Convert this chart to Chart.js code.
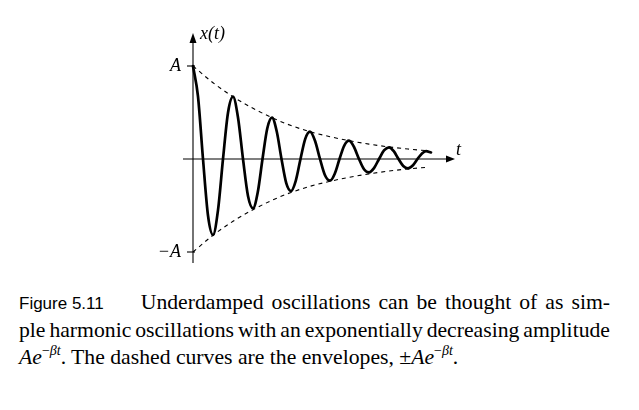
<!DOCTYPE html>
<html>
<head>
<meta charset="utf-8">
<script src="https://cdn.jsdelivr.net/npm/chart.js@4"></script>
<style>
  html, body { margin:0; padding:0; background:#fff; }
  body { width:639px; height:410px; position:relative; overflow:hidden; }
  #wrap { position:absolute; left:0; top:0; width:639px; height:270px; }
  .ln { position:absolute; left:19px; width:591px; font-family:"Liberation Serif","Times New Roman",serif; font-size:21.7px; line-height:27.5px; color:#000; white-space:nowrap; }
  .just { text-align:justify; text-align-last:justify; }
  .fig { font-family:"Liberation Sans",Arial,sans-serif; font-size:17px; display:inline-block; margin-right:37px; }
  sup { font-size:14px; line-height:0; vertical-align:9px; }
</style>
</head>
<body>
<div id="wrap"><canvas id="c" width="639" height="270"></canvas></div>
<div class="ln just" style="top:289px;"><span class="fig">Figure 5.11</span>Underdamped oscillations can be thought of as sim-</div>
<div class="ln just" style="top:316.5px; word-spacing:-2px;">ple harmonic oscillations with an exponentially decreasing amplitude</div>
<div class="ln" style="top:344px;"><i>Ae</i><sup>−<i>βt</i></sup>. The dashed curves are the envelopes, ±<i>Ae</i><sup>−<i>βt</i></sup>.</div>
<script>
// Oscillation x(t) in units of A
const tValues = [0, 0.5, 1.0, 1.5, 2.0, 2.5, 3.0, 3.5, 4.0, 4.5, 5.0, 5.5, 6.0,
  6.475, 6.95, 7.425, 7.9, 8.375, 8.85, 9.325, 9.8, 10.275, 10.75, 11.225, 11.7,
  12.2, 12.7, 13.2, 13.7, 14.175, 14.65, 15.125, 15.6, 16.1, 16.6, 17.1, 17.6,
  18.1, 18.6, 19.1, 19.6, 20.075, 20.55, 21.025, 21.5, 22.0, 22.45, 22.9, 23.3, 23.8];
const xValues = [1.0, 0.672, 0, -0.608, -0.817, -0.550, 0, 0.498, 0.67, 0.447, 0, -0.397, -0.53,
  -0.358, 0, 0.328, 0.444, 0.295, 0, -0.259, -0.344, -0.234, 0, 0.216, 0.294,
  0.196, 0, -0.175, -0.233, -0.158, 0, 0.145, 0.197, 0.129, 0, -0.110, -0.143,
  -0.098, 0, 0.092, 0.126, 0.084, 0, -0.075, -0.100, -0.067, 0, 0.060, 0.085, 0.070];
// Envelopes ±A e^{-βt}
const envT = [0, 2.0, 4.0, 6.0, 7.9, 9.8, 11.7, 13.7, 15.6, 17.6, 19.6, 21.5, 23.5];
const envUpper = [1.0, 0.82, 0.67, 0.545, 0.444, 0.36, 0.294, 0.24, 0.197, 0.16, 0.13, 0.107, 0.088];
const envLower = [-1.0, -0.82, -0.67, -0.545, -0.444, -0.36, -0.294, -0.24, -0.197, -0.16, -0.13, -0.107, -0.088];
// Axis tick labels
const yTickValues = [1, -1];
const yTickLabels = ["A", "−A"];
const xAxisLabel = "t";
const yAxisLabel = "x(t)";

const pts = (xs, ys) => xs.map((x, i) => ({x: x, y: ys[i]}));

const axesPlugin = {
  id: 'axesArrows',
  beforeDatasetsDraw(chart) {
    const ctx = chart.ctx, xs = chart.scales.x, ys = chart.scales.y;
    const x0 = xs.getPixelForValue(0), y0 = ys.getPixelForValue(0);
    const xl = xs.getPixelForValue(xs.min), xr = xs.getPixelForValue(xs.max);
    const yt = ys.getPixelForValue(ys.max), yb = ys.getPixelForValue(ys.min);
    ctx.save();
    ctx.strokeStyle = '#000'; ctx.fillStyle = '#000'; ctx.lineWidth = 1.1;
    // x axis
    ctx.beginPath(); ctx.moveTo(xl, y0); ctx.lineTo(xr - 4, y0); ctx.stroke();
    ctx.beginPath(); ctx.moveTo(xr, y0); ctx.lineTo(xr - 9, y0 - 3.5); ctx.lineTo(xr - 9, y0 + 3.5); ctx.closePath(); ctx.fill();
    // y axis
    ctx.beginPath(); ctx.moveTo(x0, yb); ctx.lineTo(x0, yt + 4); ctx.stroke();
    ctx.beginPath(); ctx.moveTo(x0, yt); ctx.lineTo(x0 - 3.5, yt + 10); ctx.lineTo(x0 + 3.5, yt + 10); ctx.closePath(); ctx.fill();
    // ticks
    ctx.font = 'italic 18px "Liberation Serif", serif';
    ctx.textBaseline = 'middle'; ctx.textAlign = 'right';
    yTickValues.forEach((v, i) => {
      const py = ys.getPixelForValue(v);
      ctx.beginPath(); ctx.moveTo(x0 - 6, py); ctx.lineTo(x0 + 2, py); ctx.stroke();
      ctx.fillText(yTickLabels[i], x0 - 12, py);
    });
    // axis labels
    ctx.textAlign = 'left'; ctx.textBaseline = 'alphabetic';
    ctx.fillText(yAxisLabel, x0 + 7, yt + 6);
    ctx.fillText(xAxisLabel, xr + 1, y0 - 4);
    ctx.restore();
  }
};

new Chart(document.getElementById('c'), {
  type: 'scatter',
  data: {
    datasets: [
      { data: pts(envT, envUpper), showLine: true, borderColor: '#000', borderWidth: 1.1, borderDash: [4, 4],
        pointRadius: 0, cubicInterpolationMode: 'monotone', clip: false },
      { data: pts(envT, envLower), showLine: true, borderColor: '#000', borderWidth: 1.1, borderDash: [4, 4],
        pointRadius: 0, cubicInterpolationMode: 'monotone', clip: false },
      { data: pts(tValues, xValues), showLine: true, borderColor: '#000', borderWidth: 2.7,
        pointRadius: 0, cubicInterpolationMode: 'monotone', clip: false, borderJoinStyle: 'round', borderCapStyle: 'round' }
    ]
  },
  options: {
    responsive: false, animation: false, devicePixelRatio: 1,
    layout: { padding: { left: 183, right: 184, top: 33, bottom: 7 } },
    plugins: { legend: { display: false }, tooltip: { enabled: false } },
    scales: {
      x: { type: 'linear', min: -1, max: 26.2, display: false },
      y: { type: 'linear', min: -1.1183, max: 1.3548, display: false }
    }
  },
  plugins: [axesPlugin]
});
</script>
</body>
</html>
